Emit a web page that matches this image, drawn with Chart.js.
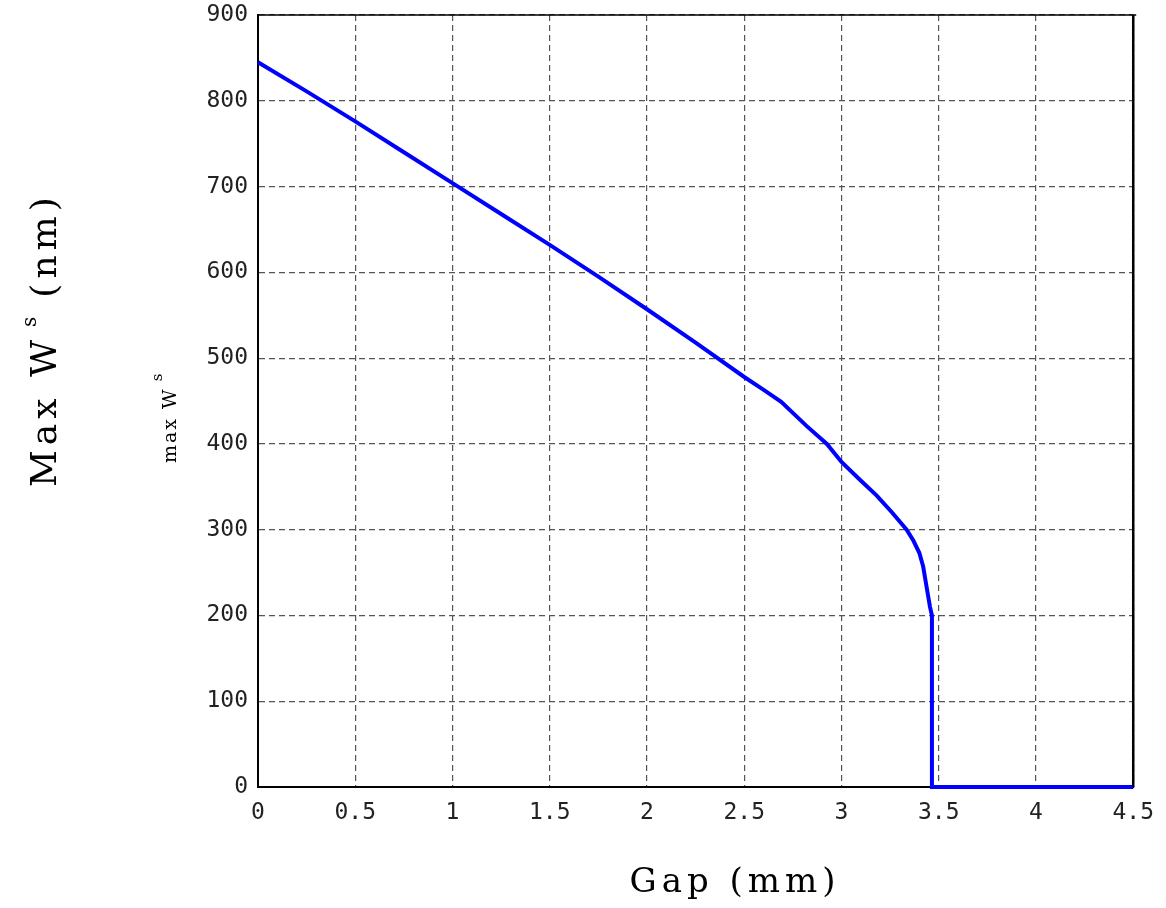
<!DOCTYPE html>
<html>
<head>
<meta charset="utf-8">
<script src="https://cdn.jsdelivr.net/npm/chart.js@4"></script>
<style>
  html, body { margin: 0; padding: 0; background: #fff; }
  #wrap { width: 1166px; height: 908px; position: relative; }
</style>
</head>
<body>
<div id="wrap"><canvas id="chart"></canvas></div>
<script>
// values
const gapMm = [0, 0.25, 0.5, 0.75, 1, 1.25, 1.5, 1.75, 2, 2.25, 2.5, 2.6, 2.69, 2.82,
    2.925, 3, 3.1, 3.18, 3.26, 3.335, 3.37, 3.4, 3.42, 3.44, 3.455, 3.465, 3.465, 4.5];
const maxWs = [845, 811, 776, 740, 704, 668, 632, 595, 557, 518, 478, 463, 449, 421,
    400, 379, 357, 340, 320, 300, 287, 273, 257, 230, 210, 200, 0, 0];
const edgeGap = [4.5, 4.5];
const edgeWs = [0, 900];

const toPoints = (xs, ys) => xs.map((x, i) => ({ x: x, y: ys[i] }));

const monoFont = '"DejaVu Sans Mono", "Liberation Mono", monospace';
const serifFont = '"DejaVu Serif", "Liberation Serif", serif';

const titlesPlugin = {
    id: 'titles',
    afterDraw(chart) {
        const ctx = chart.ctx;
        const area = chart.chartArea;
        ctx.save();
        // frame top + right
        ctx.strokeStyle = '#000';
        ctx.lineWidth = 1.5;
        ctx.beginPath();
        ctx.moveTo(area.left, area.top);
        ctx.lineTo(area.right + 3, area.top);
        ctx.moveTo(area.right, area.top);
        ctx.lineTo(area.right, area.bottom);
        ctx.stroke();

        ctx.fillStyle = '#000';
        // x title
        ctx.font = '34px ' + serifFont;
        ctx.letterSpacing = '5px';
        ctx.textAlign = 'center';
        ctx.textBaseline = 'alphabetic';
        ctx.fillText('Gap (mm)', 735, 892);

        // y title, rotated
        ctx.translate(56, 487);
        ctx.rotate(-Math.PI / 2);
        ctx.textAlign = 'left';
        ctx.font = '36px ' + serifFont;
        let x = 0;
        ctx.fillText('Max W', x, 0);
        x += ctx.measureText('Max W').width + 8;
        ctx.font = '20px ' + serifFont;
        ctx.fillText('s', x, -20);
        x += ctx.measureText('s').width + 14;
        ctx.font = '36px ' + serifFont;
        ctx.fillText('(nm)', x, 0);
        ctx.restore();

        // small leftover label
        ctx.save();
        ctx.fillStyle = '#000';
        ctx.translate(176, 463);
        ctx.rotate(-Math.PI / 2);
        ctx.letterSpacing = '2px';
        ctx.font = '19px ' + serifFont;
        ctx.fillText('max W', 0, 0);
        const w = ctx.measureText('max W').width;
        ctx.font = '15px ' + serifFont;
        ctx.fillText('s', w + 6, -14);
        ctx.restore();
    }
};

new Chart(document.getElementById('chart'), {
    type: 'scatter',
    data: {
        datasets: [
            {
                data: toPoints(gapMm, maxWs),
                showLine: true,
                borderColor: '#0000ff',
                backgroundColor: '#0000ff',
                borderWidth: 4,
                pointRadius: 0,
                tension: 0
            },
            {
                data: toPoints(edgeGap, edgeWs),
                showLine: true,
                borderColor: '#000',
                borderWidth: 2.5,
                pointRadius: 0
            }
        ]
    },
    options: {
        responsive: true,
        maintainAspectRatio: false,
        animation: false,
        clip: false,
        layout: { padding: { top: 15, right: 30, left: 0, bottom: 0 } },
        plugins: {
            legend: { display: false },
            tooltip: { enabled: false }
        },
        scales: {
            x: {
                type: 'linear',
                min: 0,
                max: 4.5,
                afterFit: (scale) => { scale.height = 121; },
                ticks: {
                    stepSize: 0.5,
                    padding: 12,
                    color: '#222',
                    font: { family: monoFont, size: 23 },
                    callback: (v) => String(v)
                },
                grid: { color: '#555', lineWidth: 1.2, drawTicks: false },
                border: { color: '#000', width: 2, dash: [6, 4] }
            },
            y: {
                type: 'linear',
                min: 0,
                max: 900,
                afterFit: (scale) => {
                    scale.width = 258;
                    scale.paddingTop = 0;
                    scale.paddingBottom = 0;
                },
                ticks: {
                    stepSize: 100,
                    padding: 10,
                    color: '#222',
                    font: { family: monoFont, size: 23 },
                    callback: (v) => String(v)
                },
                grid: { color: '#555', lineWidth: 1.2, drawTicks: false },
                border: { color: '#000', width: 2, dash: [6, 4] }
            }
        }
    },
    plugins: [titlesPlugin]
});
</script>
</body>
</html>
